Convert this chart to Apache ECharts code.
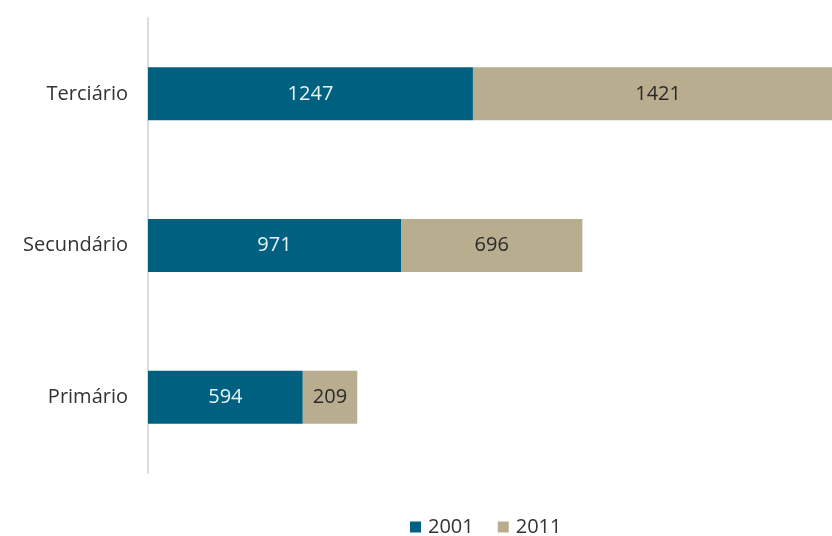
<!DOCTYPE html>
<html><head><meta charset="utf-8">
<script src="https://cdn.jsdelivr.net/npm/echarts@6/dist/echarts.min.js"></script>
<style>html,body{margin:0;padding:0;background:#fff}#c{width:832px;height:536px}</style>
</head><body><div id="c"></div>
<script>
const categories = ['Primário', 'Secundário', 'Terciário'];
const values2001 = [594, 971, 1247];
const values2011 = [209, 696, 1421];
const seriesNames = ['2001', '2011'];

const chart = echarts.init(document.getElementById('c'), null, {renderer: 'canvas'});
const font = '"Open Sans", "Liberation Sans", sans-serif';
chart.setOption({
  animation: false,
  backgroundColor: '#ffffff',
  grid: {left: 148, top: 18, right: 0, height: 455},
  xAxis: {type: 'value', min: 0, max: 2625, show: false},
  yAxis: {
    type: 'category', data: categories,
    axisLine: {show: true, lineStyle: {color: '#d0d0d0', width: 1.5}},
    axisTick: {show: false},
    axisLabel: {color: '#333', fontSize: 20, fontFamily: font, margin: 20}
  },
  legend: {
    top: 512, left: 405, itemWidth: 11, itemHeight: 11, itemGap: 24,
    icon: 'rect',
    textStyle: {color: '#333', fontSize: 20, fontFamily: font, padding: [0,0,0,2]},
    data: seriesNames
  },
  series: [
    {name: seriesNames[0], type: 'bar', stack: 's', data: values2001, barWidth: 53, clip: false,
     itemStyle: {color: '#00607f'},
     label: {show: true, position: 'inside', color: '#e6f4fa', fontSize: 20, fontFamily: font}},
    {name: seriesNames[1], type: 'bar', stack: 's', data: values2011, barWidth: 53, clip: false,
     itemStyle: {color: '#b8ad8e'},
     label: {show: true, position: 'inside', color: '#2a2a2a', fontSize: 20, fontFamily: font}}
  ]
});
</script></body></html>
